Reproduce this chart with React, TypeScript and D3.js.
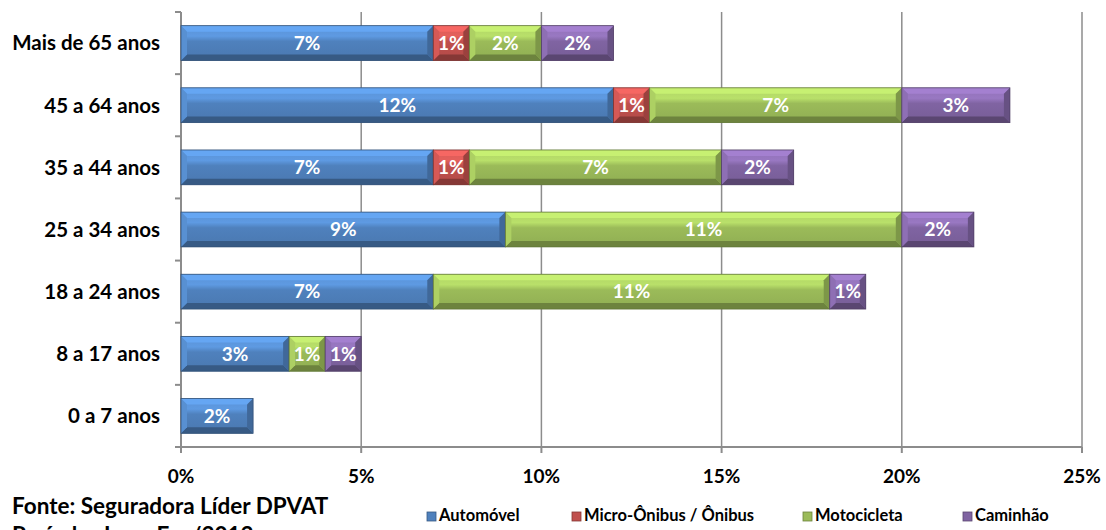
import React from "react";
import * as d3 from "d3";

const categories = ["Mais de 65 anos", "45 a 64 anos", "35 a 44 anos", "25 a 34 anos", "18 a 24 anos", "8 a 17 anos", "0 a 7 anos"];
const seriesNames = ["Automóvel", "Micro-Ônibus / Ônibus", "Motocicleta", "Caminhão"];
const automovel = [7, 12, 7, 9, 7, 3, 2];
const microOnibus = [1, 1, 1, 0, 0, 0, 0];
const motocicleta = [2, 7, 7, 11, 11, 1, 0];
const caminhao = [2, 3, 2, 2, 1, 1, 0];
const xTicks = [0, 5, 10, 15, 20, 25];
const colors = ["#4F81BD", "#C0504D", "#9BBB59", "#8064A2"];

const W = 1106, H = 530;
const left = 181, right = 1082, top = 12, bottom = 447;

export default function App() {
  const x = d3.scaleLinear().domain([0, 25]).range([left, right]);
  const y = d3.scaleBand<string>().domain(categories).range([top, bottom]).paddingInner(0.44).paddingOuter(0.22);
  const seriesVals = [automovel, microOnibus, motocicleta, caminhao];
  const rows = categories.map((c, i) => {
    const obj: any = { cat: c };
    seriesNames.forEach((s, j) => (obj[s] = seriesVals[j][i]));
    return obj;
  });
  const stacked = d3.stack<any>().keys(seriesNames)(rows);
  const font = "Lato, 'Open Sans', sans-serif";
  const step = (bottom - top) / categories.length;

  const segs: any[] = [];
  stacked.forEach((layer, si) => {
    layer.forEach((d, ci) => {
      const v = d[1] - d[0];
      if (v <= 0) return;
      segs.push({ si, ci, x0: x(d[0]), x1: x(d[1]), y0: y(categories[ci])!, h: y.bandwidth(), v });
    });
  });

  return (
    <div style={{ position: "fixed", left: 0, top: 0 }}>
      <svg width={W} height={H} style={{ display: "block", background: "#fff" }}>
        <defs>
          {colors.map((c, i) => {
            const col = d3.color(c)!;
            return (
              <linearGradient key={i} id={`face${i}`} x1="0" y1="0" x2="0" y2="1">
                <stop offset="0" stopColor={d3.color(c)!.brighter(0.35).formatHex()} />
                <stop offset="0.3" stopColor={d3.color(c)!.brighter(0.5).formatHex()} />
                <stop offset="0.45" stopColor={c} />
                <stop offset="1" stopColor={col.darker(0.2).formatHex()} />
              </linearGradient>
            );
          })}
        </defs>
        {/* gridlines */}
        {xTicks.slice(1).map((t) => (
          <line key={t} x1={x(t)} x2={x(t)} y1={top} y2={bottom} stroke="#8c8c8c" strokeWidth={1.5} />
        ))}
        {/* axis lines */}
        <line x1={left} x2={left} y1={top} y2={bottom} stroke="#8c8c8c" strokeWidth={2} />
        <line x1={left} x2={right} y1={bottom} y2={bottom} stroke="#8c8c8c" strokeWidth={2} />
        {d3.range(categories.length + 1).map((i) => (
          <line key={i} x1={left - 6} x2={left} y1={top + i * step} y2={top + i * step} stroke="#8c8c8c" strokeWidth={2} />
        ))}
        {xTicks.map((t) => (
          <line key={t} x1={x(t)} x2={x(t)} y1={bottom} y2={bottom + 6} stroke="#8c8c8c" strokeWidth={2} />
        ))}
        {/* bars */}
        {segs.map((s, k) => {
          const c = colors[s.si];
          const b = 6;
          const x0 = s.x0, x1 = s.x1, y0 = s.y0, y1 = s.y0 + s.h;
          const light = d3.color(c)!.brighter(0.7).formatHex();
          const lightMid = d3.color(c)!.brighter(0.3).formatHex();
          const dark = d3.color(c)!.darker(1.0).formatHex();
          const darkMid = d3.color(c)!.darker(0.6).formatHex();
          return (
            <g key={k}>
              <rect x={x0} y={y0} width={x1 - x0} height={y1 - y0} fill={`url(#face${s.si})`} />
              <polygon points={`${x0},${y0} ${x1},${y0} ${x1 - b},${y0 + b} ${x0 + b},${y0 + b}`} fill={light} />
              <polygon points={`${x0},${y1} ${x1},${y1} ${x1 - b},${y1 - b} ${x0 + b},${y1 - b}`} fill={dark} />
              <polygon points={`${x0},${y0} ${x0 + b},${y0 + b} ${x0 + b},${y1 - b} ${x0},${y1}`} fill={lightMid} />
              <polygon points={`${x1},${y0} ${x1 - b},${y0 + b} ${x1 - b},${y1 - b} ${x1},${y1}`} fill={darkMid} />
              <rect x={x0} y={y0} width={x1 - x0} height={y1 - y0} fill="none" stroke={d3.color(c)!.darker(1.3).formatHex()} strokeWidth={0.8} />
              <text x={(x0 + x1) / 2} y={(y0 + y1) / 2} dy="0.36em" textAnchor="middle" fill="#fff" fontFamily={font} fontWeight="bold" fontSize={19}>
                {`${s.v}%`}
              </text>
            </g>
          );
        })}
        {/* category labels */}
        {categories.map((c) => (
          <text key={c} x={160} y={y(c)! + y.bandwidth() / 2} dy="0.36em" textAnchor="end" fontFamily={font} fontWeight="bold" fontSize={20.5} fill="#000">
            {c}
          </text>
        ))}
        {/* x tick labels */}
        {xTicks.map((t) => (
          <text key={t} x={x(t)} y={483} textAnchor="middle" fontFamily={font} fontWeight="bold" fontSize={19} fill="#000">
            {`${t}%`}
          </text>
        ))}
        {/* source */}
        <text x={12} y={514} fontFamily={font} fontWeight="bold" fontSize={22.5} fill="#000">Fonte: Seguradora Líder DPVAT</text>
        <text x={12} y={543} fontFamily={font} fontWeight="bold" fontSize={22.5} fill="#000">Período: Jan a Fev/2012</text>
        {/* legend */}
        {seriesNames.map((s, i) => {
          const lx = [427, 572, 803, 963][i];
          return (
            <g key={s}>
              <rect x={lx} y={512} width={9} height={9} fill={colors[i]} stroke={d3.color(colors[i])!.darker(1).formatHex()} strokeWidth={0.8} />
              <text x={lx + 12} y={521} fontFamily={font} fontWeight="bold" fontSize={16.5} fill="#000">{s}</text>
            </g>
          );
        })}
      </svg>
    </div>
  );
}
